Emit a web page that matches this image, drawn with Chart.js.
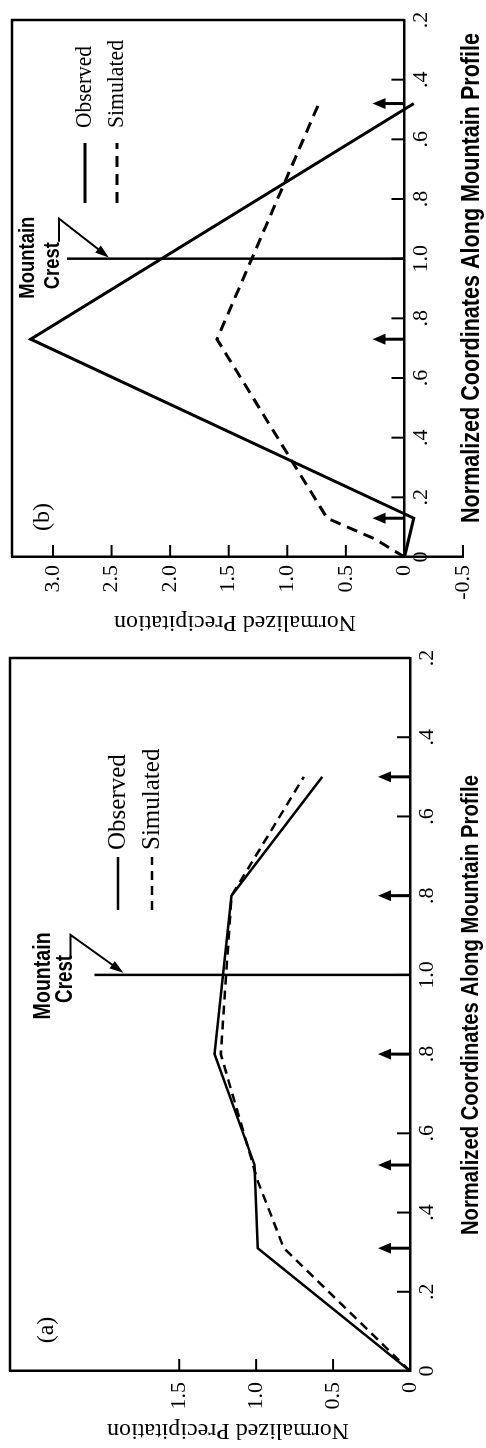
<!DOCTYPE html>
<html>
<head>
<meta charset="utf-8">
<title>Normalized precipitation along mountain profile</title>
<script src="https://cdn.jsdelivr.net/npm/chart.js@4.4.1/dist/chart.umd.min.js"></script>
<style>
  html, body { margin: 0; padding: 0; background: #fff; overflow: hidden; }
  /* the figure is laid out upright (1448 x 486) and turned a quarter turn */
  #fig { position: absolute; left: 0; top: 0; width: 1448px; height: 486px;
         transform-origin: 0 0; transform: translate(0, 1448px) rotate(-90deg); }
  #fig canvas { position: absolute; top: 0; }
</style>
</head>
<body>
<div id="fig">
  <canvas id="panelA" width="800" height="486" style="left:0"></canvas>
  <canvas id="panelB" width="648" height="486" style="left:800px"></canvas>
</div>
<script>
// profile coordinate, crest at 1.0, labels fold back on the lee side
const xTicks = [0, 0.2, 0.4, 0.6, 0.8, 1.0, 1.2, 1.4, 1.6, 1.8];
const xTickLabels = ['0', '.2', '.4', '.6', '.8', '1.0', '.8', '.6', '.4', '.2'];
const xTitle = 'Normalized Coordinates Along Mountain Profile';
const yTitle = 'Normalized Precipitation';

// panel (a)
const aYTicks = [0, 0.5, 1.0, 1.5];
const aYTickLabels = ['0', '0.5', '1.0', '1.5'];
const aObsX = [0, 0.31, 0.52, 0.8, 1.2, 1.5];
const aObsY = [0, 0.99, 1.01, 1.27, 1.16, 0.57];
const aSimX = [0, 0.31, 0.48, 0.8, 1.2, 1.5];
const aSimY = [0, 0.82, 0.99, 1.23, 1.16, 0.69];
const aGauges = [0.31, 0.52, 0.8, 1.2, 1.5];
const aCrest = [1.0, 2.05];   // crest position, top of the marker line

// panel (b)
const bYTicks = [-0.5, 0, 0.5, 1.0, 1.5, 2.0, 2.5, 3.0];
const bYTickLabels = ['-0.5', '0', '0.5', '1.0', '1.5', '2.0', '2.5', '3.0'];
const bObsX = [0, 0.13, 0.73, 1.52];
const bObsY = [0, -0.08, 3.19, -0.08];
const bSimX = [0, 0.06, 0.13, 0.73, 1.53];
const bSimY = [0, 0.25, 0.66, 1.6, 0.72];
const bGauges = [0.13, 0.73, 1.52];
const bCrest = [1.0, 2.88];

const serif = '"Liberation Serif", "Times New Roman", serif';
const narrow = '"Liberation Sans Narrow", "Liberation Sans", Arial, sans-serif';

function makeDecor(d) {
  return {
    id: 'decor',
    afterDraw(chart) {
      const ctx = chart.ctx, a = chart.chartArea;
      const x = chart.scales.x, y = chart.scales.y;
      const y0 = y.getPixelForValue(0);
      const seg = (x1, y1, x2, y2) => {
        ctx.beginPath(); ctx.moveTo(x1, y1); ctx.lineTo(x2, y2); ctx.stroke();
      };
      const head = (tx, ty, fx, fy, len, half) => {
        const ang = Math.atan2(ty - fy, tx - fx);
        const bx = tx - len * Math.cos(ang), by = ty - len * Math.sin(ang);
        ctx.beginPath();
        ctx.moveTo(tx, ty);
        ctx.lineTo(bx + half * Math.sin(ang), by - half * Math.cos(ang));
        ctx.lineTo(bx - half * Math.sin(ang), by + half * Math.cos(ang));
        ctx.closePath(); ctx.fill();
      };
      ctx.save();
      ctx.strokeStyle = '#000';
      ctx.fillStyle = '#000';

      // top and right edges of the frame
      ctx.lineWidth = 2.5;
      ctx.beginPath();
      ctx.moveTo(a.left, a.top); ctx.lineTo(a.right, a.top); ctx.lineTo(a.right, y0);
      ctx.stroke();

      // tick marks point into the plot
      ctx.lineWidth = 2;
      x.ticks.forEach(t => {
        if (t.value > 0) { const p = x.getPixelForValue(t.value); seg(p, y0, p, y0 - 13); }
      });
      y.ticks.forEach(t => {
        if (t.value !== 0) { const p = y.getPixelForValue(t.value); seg(a.left, p, a.left + 12, p); }
      });

      // gauge arrows on the axis
      d.gauges.forEach(g => {
        const p = x.getPixelForValue(g);
        ctx.lineWidth = 3;
        seg(p, y0, p, y0 - 22);
        head(p, y0 - 32, p, y0, 13, 5.5);
      });

      // crest marker
      const cx = x.getPixelForValue(d.crest[0]);
      const ct = y.getPixelForValue(d.crest[1]);
      ctx.lineWidth = 2.5;
      seg(cx, y0, cx, ct);
      ctx.font = 'bold ' + d.crestFont + 'px ' + narrow;
      ctx.textAlign = 'center';
      ctx.textBaseline = 'middle';
      ctx.fillText('Mountain', cx + d.mount[0], ct - d.mount[1], d.mount[2]);
      ctx.fillText('Crest', cx + d.crestTxt[0], ct - d.crestTxt[1], d.crestTxt[2]);
      ctx.lineWidth = 2;
      const px = cx + d.ptr[1], py = ct - d.ptr[2];
      const tx = cx + d.ptr[3], ty = ct + d.ptr[4];
      ctx.beginPath();
      ctx.moveTo(cx + d.ptr[0], py); ctx.lineTo(px, py);
      ctx.lineTo(tx + (px - tx) * 0.2, ty + (py - ty) * 0.2);
      ctx.stroke();
      head(tx, ty, px, py, 14, 4.5);

      // legend
      const L = d.legend;
      ctx.lineWidth = d.lw;
      seg(L.x1, L.yObs, L.x2, L.yObs);
      ctx.setLineDash(d.dash);
      seg(L.x1, L.ySim, L.x2, L.ySim);
      ctx.setLineDash([]);
      ctx.font = L.font + 'px ' + serif;
      ctx.textAlign = 'left';
      ctx.fillText('Observed', L.tx, L.yObs, L.wObs);
      ctx.fillText('Simulated', L.tx, L.ySim, L.wSim);

      // panel letter
      ctx.font = '24px ' + serif;
      ctx.textAlign = 'center';
      ctx.fillText(d.letter[0], d.letter[1], d.letter[2]);

      // axis titles
      ctx.font = 'bold ' + d.xTitle[3] + 'px ' + narrow;
      ctx.fillText(xTitle, d.xTitle[0], d.xTitle[1], d.xTitle[2]);
      ctx.translate(d.yTitle[0], d.yTitle[1]);
      ctx.rotate(-Math.PI / 2);
      ctx.font = '24px ' + serif;
      ctx.fillText(yTitle, 0, 0, d.yTitle[2]);
      ctx.restore();
    }
  };
}

function makePanel(id, c) {
  const pts = (xs, ys) => xs.map((v, i) => ({x: v, y: ys[i]}));
  const tickFont = {family: serif, size: 22};
  return new Chart(document.getElementById(id), {
    type: 'scatter',
    data: {
      datasets: [
        {label: 'Observed', data: pts(c.obsX, c.obsY), showLine: true, borderColor: '#000',
         borderWidth: c.decor.lw, pointRadius: 0, borderJoinStyle: 'miter', clip: false},
        {label: 'Simulated', data: pts(c.simX, c.simY), showLine: true, borderColor: '#000',
         borderWidth: c.decor.lw, borderDash: c.decor.dash, pointRadius: 0, clip: false}
      ]
    },
    options: {
      responsive: false,
      animation: false,
      events: [],
      layout: {padding: c.pad},
      plugins: {legend: {display: false}, tooltip: {enabled: false}},
      scales: {
        x: {
          type: 'linear', min: 0, max: 1.8, position: c.xPos,
          afterBuildTicks: s => { s.ticks = xTicks.map(v => ({value: v})); },
          afterFit: s => { s.height = c.xHeight; s.paddingLeft = 0; s.paddingRight = 0; },
          grid: {display: false, drawTicks: false},
          border: {display: true, color: '#000', width: 2.5},
          ticks: {color: '#000', font: tickFont, padding: 4, autoSkip: false,
                  maxRotation: 0, minRotation: 0, callback: (v, i) => xTickLabels[i]}
        },
        y: {
          type: 'linear', min: c.yMin, max: c.yMax, position: 'left',
          afterBuildTicks: s => { s.ticks = c.yTicks.map(v => ({value: v})); },
          afterFit: s => { s.width = c.yWidth; s.paddingTop = 0; s.paddingBottom = 0; },
          grid: {display: false, drawTicks: false},
          border: {display: true, color: '#000', width: 2.5},
          ticks: {color: '#000', font: tickFont, padding: c.yPad, autoSkip: false,
                  callback: (v, i) => c.yLabels[i]}
        }
      }
    },
    plugins: [makeDecor(c.decor)]
  });
}

makePanel('panelA', {
  obsX: aObsX, obsY: aObsY, simX: aSimX, simY: aSimY,
  yTicks: aYTicks, yLabels: aYTickLabels, yMin: 0, yMax: 2.6,
  xPos: 'bottom', xHeight: 76, yWidth: 77, yPad: 11,
  pad: {left: 0, top: 10, right: 10, bottom: 0},
  decor: {
    lw: 2.5, dash: [9, 6], gauges: aGauges, crest: aCrest,
    crestFont: 24, mount: [-1, 51, 87], crestTxt: [-4, 29, 48], ptr: [18, 40, 24, 2, 29],
    legend: {x1: 538, x2: 591, tx: 598, yObs: 118, ySim: 152, wObs: 100, wSim: 105, font: 25},
    letter: ['(a)', 118, 47],
    xTitle: [443, 472, 460, 23],
    yTitle: [18, 228, 244]
  }
});

makePanel('panelB', {
  obsX: bObsX, obsY: bObsY, simX: bSimX, simY: bSimY,
  yTicks: bYTicks, yLabels: bYTickLabels, yMin: -0.5, yMax: 3.35,
  xPos: {y: 0}, xHeight: 40, yWidth: 91, yPad: 8,
  pad: {left: 0, top: 12, right: 20, bottom: 23},
  decor: {
    lw: 3, dash: [11, 7], gauges: bGauges, crest: bCrest,
    crestFont: 22, mount: [1, 39, 82], crestTxt: [-7, 14, 47], ptr: [17, 40, 8, 1, 42],
    legend: {x1: 445, x2: 505, tx: 520, yObs: 85, ySim: 117, wObs: 82, wSim: 88, font: 23},
    letter: ['(b)', 131, 43],
    xTitle: [370, 472, 490, 25],
    yTitle: [26, 235, 244]
  }
});
</script>
</body>
</html>
